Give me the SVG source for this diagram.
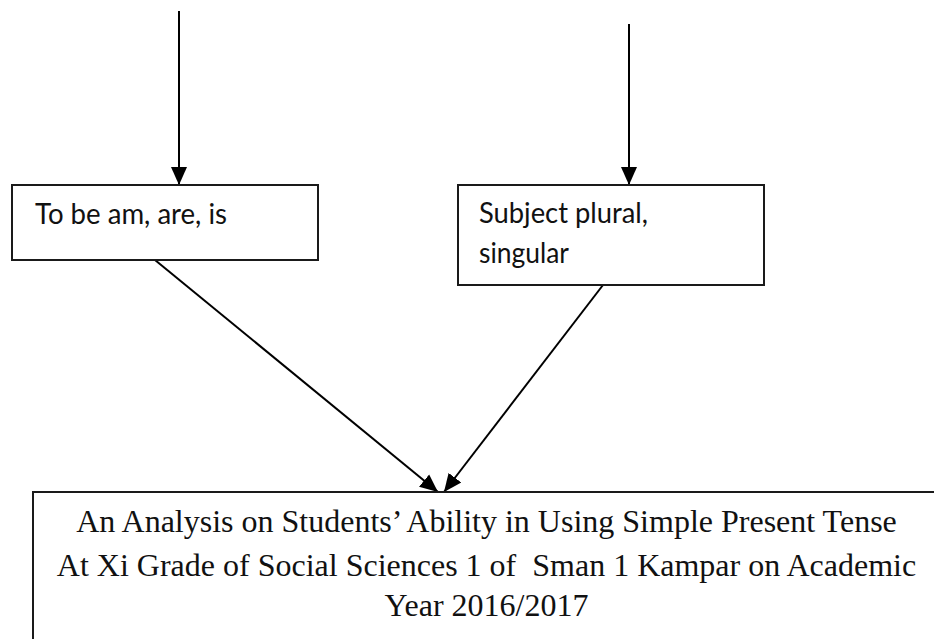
<svg xmlns="http://www.w3.org/2000/svg" width="934" height="639" viewBox="0 0 934 639">
<style>
.box{fill:#fff;stroke:#1a1a1a;stroke-width:2}
.lbl{font-family:Lato,"Liberation Sans",sans-serif;font-size:29px;fill:#111}
.ttl{font-family:"Liberation Serif","Times New Roman",serif;font-size:32px;fill:#111;text-anchor:middle}
.conn{stroke:#000;stroke-width:2;fill:none;marker-end:url(#ah)}
</style>
<defs>
<marker id="ah" markerUnits="userSpaceOnUse" markerWidth="18" markerHeight="18" viewBox="0 0 18 18" refX="18" refY="9" orient="auto">
<path d="M0,1 L18,9 L0,17 Z" fill="#000"/>
</marker>
</defs>
<rect width="934" height="639" fill="#fff"/>
<g id="connectors">
<line class="conn" x1="179" y1="11" x2="179" y2="185"/>
<line class="conn" x1="629" y1="24" x2="629" y2="185"/>
<line class="conn" x1="155" y1="260" x2="438" y2="492"/>
<line class="conn" x1="603" y1="285" x2="444" y2="492"/>
</g>
<g id="node-tobe">
<rect class="box" x="12" y="185" width="306" height="75"/>
<text class="lbl" x="35" y="224" textLength="192" lengthAdjust="spacingAndGlyphs">To be am, are, is</text>
</g>
<g id="node-subject">
<rect class="box" x="458" y="185" width="306" height="100"/>
<text class="lbl" x="479" y="223" textLength="169" lengthAdjust="spacingAndGlyphs">Subject plural,</text>
<text class="lbl" x="479" y="263" textLength="90" lengthAdjust="spacingAndGlyphs">singular</text>
</g>
<g id="node-title">
<rect class="box" x="33" y="492" width="910" height="170"/>
<text class="ttl" x="486.5" y="532">An Analysis on Students’ Ability in Using Simple Present Tense</text>
<text class="ttl" x="486.5" y="576" xml:space="preserve">At Xi Grade of Social Sciences 1 of  Sman 1 Kampar on Academic</text>
<text class="ttl" x="486.5" y="616">Year 2016/2017</text>
</g>
</svg>
